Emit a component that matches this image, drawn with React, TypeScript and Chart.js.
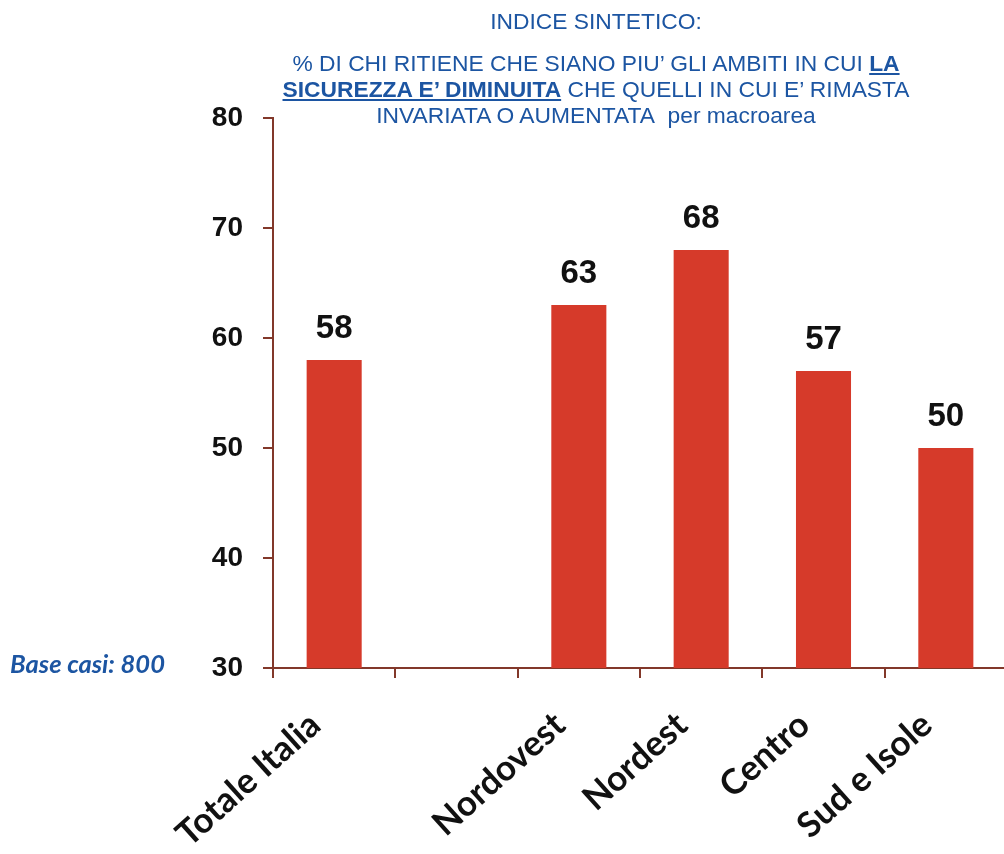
import React, { useEffect, useRef } from "react";
import { Chart, registerables } from "chart.js";

Chart.register(...registerables);

const categories = ["Totale Italia", "", "Nordovest", "Nordest", "Centro", "Sud e Isole"];
const values: (number | null)[] = [58, null, 63, 68, 57, 50];
const yTickValues = [30, 40, 50, 60, 70, 80];

const titleLine1 = "INDICE SINTETICO:";
const titleLine2a = "% DI CHI RITIENE CHE SIANO PIU\u2019 GLI AMBITI IN CUI ";
const titleLine2b = "LA";
const titleLine3a = "SICUREZZA E\u2019 DIMINUITA";
const titleLine3b = " CHE QUELLI IN CUI E\u2019 RIMASTA";
const titleLine4 = "INVARIATA O AUMENTATA\u00a0 per macroarea";
const baseNote = "Base casi: 800";

const BAR_COLOR = "#d63a2a";
const AXIS_COLOR = "#82382a";
const BLUE = "#1c55a2";

const valueLabels = {
  id: "valueLabels",
  afterDatasetsDraw(chart: any) {
    const ctx = chart.ctx;
    const meta = chart.getDatasetMeta(0);
    ctx.save();
    ctx.font = "bold 33px 'Liberation Sans', Arial, sans-serif";
    ctx.fillStyle = "#111111";
    ctx.textAlign = "center";
    ctx.textBaseline = "alphabetic";
    meta.data.forEach((el: any, i: number) => {
      const v = values[i];
      if (v == null) return;
      ctx.fillText(String(v), el.x, el.y - 22);
    });
    ctx.restore();
  },
};

export default function App() {
  const canvasRef = useRef<HTMLCanvasElement | null>(null);

  useEffect(() => {
    if (!canvasRef.current) return;
    const chart = new Chart(canvasRef.current, {
      type: "bar",
      data: {
        labels: categories,
        datasets: [
          {
            data: values,
            backgroundColor: BAR_COLOR,
            borderWidth: 0,
            barPercentage: 0.45,
            categoryPercentage: 1,
          },
        ],
      },
      options: {
        responsive: true,
        maintainAspectRatio: false,
        animation: false,
        layout: { padding: { top: 118, right: 3, left: 0, bottom: 0 } },
        plugins: {
          legend: { display: false },
          tooltip: { enabled: false },
          title: { display: false },
        },
        scales: {
          x: {
            grid: {
              offset: true,
              drawOnChartArea: false,
              drawTicks: true,
              tickLength: 10,
              color: AXIS_COLOR,
              lineWidth: 2,
            },
            border: { color: AXIS_COLOR, width: 2 },
            ticks: {
              color: "#111111",
              font: { family: "Lato, 'Open Sans', sans-serif", weight: "bold", size: 35 },
              minRotation: 42,
              maxRotation: 42,
              autoSkip: false,
              padding: 26,
              labelOffset: -19,
            },
            afterFit: (s: any) => {
              s.height = 186;
            },
          },
          y: {
            min: 30,
            max: 80,
            afterBuildTicks: (s: any) => {
              s.ticks = yTickValues.map((v) => ({ value: v }));
            },
            grid: {
              drawOnChartArea: false,
              drawTicks: true,
              tickLength: 10,
              color: AXIS_COLOR,
              lineWidth: 2,
            },
            border: { color: AXIS_COLOR, width: 2 },
            ticks: {
              color: "#111111",
              font: { family: "'Liberation Sans', Arial, sans-serif", weight: "bold", size: 28 },
              padding: 20,
            },
            afterFit: (s: any) => {
              s.width = 273;
            },
          },
        },
      },
      plugins: [valueLabels],
    });
    return () => chart.destroy();
  }, []);

  const titleFont = "'Liberation Sans', Arial, sans-serif";
  const lineStyle: React.CSSProperties = {
    position: "absolute",
    left: 196,
    width: 800,
    textAlign: "center",
    whiteSpace: "pre",
    fontFamily: titleFont,
    fontSize: "22.8px",
    lineHeight: "26px",
    color: BLUE,
  };
  const u: React.CSSProperties = { fontWeight: "bold", textDecoration: "underline", textDecorationThickness: "2px", textUnderlineOffset: "2px" };

  return (
    <div
      style={{
        position: "absolute",
        left: 0,
        top: 0,
        width: 1004,
        height: 854,
        overflow: "hidden",
        background: "#ffffff",
      }}
    >
      <div style={{ position: "absolute", left: 0, top: 0, width: 1010, height: 854 }}>
        <canvas ref={canvasRef} />
      </div>
      <div style={{ ...lineStyle, top: 8 }}>{titleLine1}</div>
      <div style={{ ...lineStyle, top: 50 }}>
        {titleLine2a}
        <span style={u}>{titleLine2b}</span>
      </div>
      <div style={{ ...lineStyle, top: 76 }}>
        <span style={u}>{titleLine3a}</span>
        {titleLine3b}
      </div>
      <div style={{ ...lineStyle, top: 102 }}>{titleLine4}</div>
      <div
        style={{
          position: "absolute",
          left: 10,
          top: 647,
          fontFamily: "Lato, 'Open Sans', sans-serif",
          fontStyle: "italic",
          fontWeight: "bold",
          fontSize: "25.5px",
          lineHeight: "32px",
          color: BLUE,
          whiteSpace: "pre",
        }}
      >
        {baseNote}
      </div>
    </div>
  );
}
